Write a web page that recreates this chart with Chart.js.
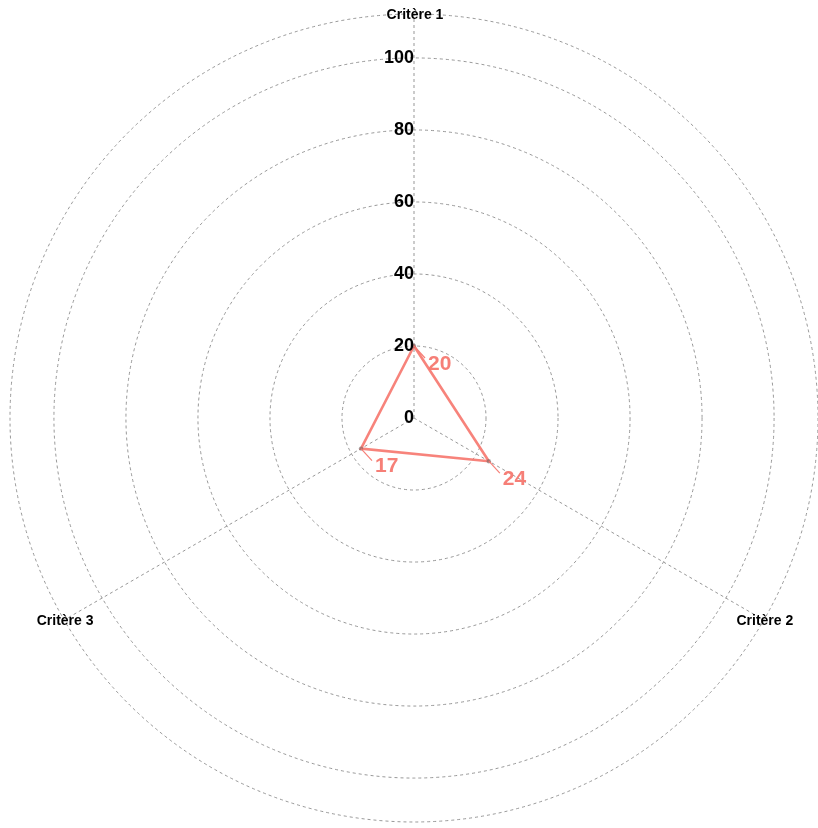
<!DOCTYPE html>
<html>
<head>
<meta charset="utf-8">
<script src="https://cdn.jsdelivr.net/npm/chart.js@4.4.1/dist/chart.umd.min.js"></script>
<style>
  html, body { margin: 0; padding: 0; background: #ffffff; }
  #wrap { width: 818px; height: 828px; position: relative; }
</style>
</head>
<body>
<div id="wrap"><canvas id="c" width="818" height="828"></canvas></div>
<script>
const categories = ["Critère 1", "Critère 2", "Critère 3"];
const seriesValues = [20, 24, 17];
const tickValues = [0, 20, 40, 60, 80, 100];
const scaleMax = 112.2;

const lineColor = "rgba(246,120,112,0.92)";
const labelColor = "rgba(246,120,112,0.95)";
const fontFamily = "'Liberation Sans', Arial, Helvetica, sans-serif";

const overlayPlugin = {
  id: "overlay",
  afterDatasetsDraw(chart) {
    const ctx = chart.ctx;
    const scale = chart.scales.r;
    ctx.save();
    ctx.fillStyle = "#000000";
    ctx.font = "bold 18px " + fontFamily;
    ctx.textAlign = "right";
    ctx.textBaseline = "middle";
    tickValues.forEach(v => {
      const d = scale.getDistanceFromCenterForValue(v);
      ctx.fillText(String(v), scale.xCenter, scale.yCenter - d);
    });
    ctx.font = "bold 14px " + fontFamily;
    ctx.textAlign = "center";
    categories.forEach((c, i) => {
      const p = scale.getPointPosition(i, scale.drawingArea);
      ctx.fillText(c, p.x + 1, p.y + 1);
    });
    const meta = chart.getDatasetMeta(0);
    ctx.font = "bold 21px " + fontFamily;
    ctx.textAlign = "left";
    meta.data.forEach((pt, i) => {
      ctx.strokeStyle = labelColor;
      ctx.lineWidth = 1.2;
      ctx.beginPath();
      ctx.moveTo(pt.x, pt.y);
      ctx.lineTo(pt.x + 11, pt.y + 12);
      ctx.stroke();
      ctx.fillStyle = labelColor;
      ctx.fillText(String(seriesValues[i]), pt.x + 14, pt.y + 18);
    });
    ctx.restore();
  }
};

new Chart(document.getElementById("c"), {
  type: "radar",
  data: {
    labels: categories,
    datasets: [{
      data: seriesValues,
      borderColor: lineColor,
      backgroundColor: "rgba(0,0,0,0)",
      borderWidth: 2.6,
      fill: false,
      pointRadius: 2.2,
      pointBackgroundColor: "rgba(110,100,100,0.55)",
      pointBorderWidth: 0,
      tension: 0
    }]
  },
  options: {
    responsive: false,
    animation: false,
    devicePixelRatio: 1,
    layout: { padding: { left: 10, right: 0, top: 14, bottom: 6 } },
    plugins: { legend: { display: false }, tooltip: { enabled: false } },
    scales: {
      r: {
        min: 0,
        max: scaleMax,
        startAngle: 0,
        ticks: { stepSize: 20, display: false },
        pointLabels: { display: false },
        grid: {
          circular: true,
          color: "#8c8c8c",
          lineWidth: 0.9
        },
        border: {
          dash: [3, 3]
        },
        angleLines: {
          color: "#8c8c8c",
          lineWidth: 0.9,
          borderDash: [3, 3]
        }
      }
    }
  },
  plugins: [overlayPlugin]
});
</script>
</body>
</html>
